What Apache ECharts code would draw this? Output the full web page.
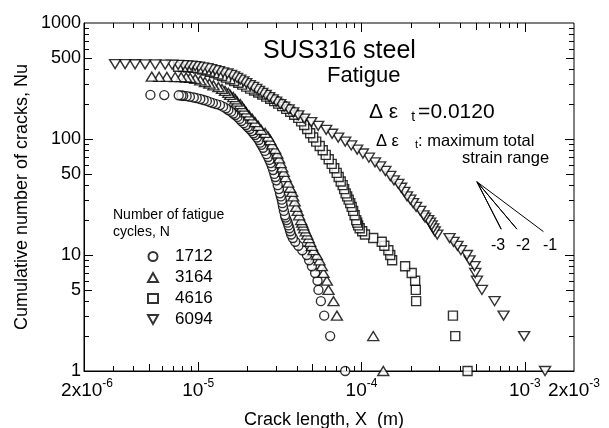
<!DOCTYPE html>
<html>
<head>
<meta charset="utf-8">
<script src="https://cdn.jsdelivr.net/npm/echarts@6/dist/echarts.min.js"></script>
<style>
html, body { margin: 0; padding: 0; background: #fff; }
#chart { width: 609px; height: 428px; }
</style>
</head>
<body>
<div id="chart"></div>
<script>
var cycles = ['1712', '3164', '4616', '6094'];

// [crack length X (m), cumulative number Nu]
var s1712 = [[5.1e-6,240],[6.2e-6,239],[7.6e-6,238],[7.9e-6,237],[8.1e-6,236],[8.5e-6,234],[8.9e-6,231],[9.4e-6,228],[9.8e-6,225],[1.03e-5,221],[1.08e-5,217],[1.13e-5,213],[1.18e-5,208],[1.23e-5,204],[1.29e-5,200],[1.36e-5,196],[1.42e-5,190],[1.48e-5,184],[1.53e-5,178],[1.59e-5,172],[1.64e-5,166],[1.69e-5,161],[1.74e-5,155],[1.79e-5,149],[1.84e-5,143],[1.90e-5,137],[1.96e-5,132],[2.01e-5,127],[2.07e-5,122],[2.13e-5,117],[2.18e-5,112],[2.23e-5,108],[2.29e-5,103],[2.35e-5,98],[2.40e-5,93],[2.44e-5,89],[2.50e-5,84],[2.56e-5,79],[2.62e-5,74],[2.68e-5,70],[2.73e-5,66],[2.78e-5,62],[2.83e-5,58],[2.88e-5,54],[2.93e-5,50],[2.97e-5,47],[3.01e-5,44],[3.07e-5,40],[3.12e-5,37],[3.17e-5,34],[3.21e-5,32],[3.25e-5,30],[3.28e-5,28],[3.31e-5,26],[3.35e-5,24],[3.40e-5,22],[3.43e-5,21],[3.48e-5,20],[3.53e-5,19],[3.57e-5,18],[3.62e-5,17],[3.66e-5,16],[3.71e-5,15],[3.80e-5,14],[3.93e-5,13],[4.11e-5,12],[4.34e-5,11],[4.63e-5,10],[4.78e-5,9],[4.97e-5,8],[5.20e-5,7],[5.38e-5,6],[5.45e-5,5],[5.64e-5,4],[5.91e-5,3],[6.43e-5,2],[7.95e-5,1]];

var s3164 = [[5.20e-6,345],[5.77e-6,344],[6.43e-6,343],[7.23e-6,342],[7.87e-6,341],[8.44e-6,339],[8.93e-6,336],[9.59e-6,330],[1.03e-5,320],[1.10e-5,310],[1.17e-5,300],[1.24e-5,290],[1.33e-5,280],[1.40e-5,270],[1.46e-5,260],[1.53e-5,250],[1.57e-5,240],[1.64e-5,230],[1.69e-5,220],[1.73e-5,210],[1.81e-5,200],[1.86e-5,190],[1.91e-5,180],[1.97e-5,170],[2.05e-5,160],[2.14e-5,150],[2.23e-5,140],[2.33e-5,130],[2.43e-5,120],[2.57e-5,113],[2.68e-5,105],[2.76e-5,98],[2.84e-5,90],[2.96e-5,82],[3.05e-5,75],[3.13e-5,68],[3.20e-5,62],[3.27e-5,57],[3.34e-5,52],[3.43e-5,47],[3.56e-5,42],[3.66e-5,38],[3.76e-5,35],[3.82e-5,32],[3.90e-5,29],[3.98e-5,26],[4.07e-5,24],[4.15e-5,22],[4.27e-5,20],[4.33e-5,19],[4.40e-5,18],[4.46e-5,17],[4.55e-5,16],[4.65e-5,15],[4.75e-5,14],[4.85e-5,13],[4.97e-5,12],[5.08e-5,11],[5.33e-5,10],[5.53e-5,9],[5.72e-5,8],[5.85e-5,7],[6.14e-5,6],[6.28e-5,5],[6.74e-5,4],[7.07e-5,3],[1.18e-4,2],[1.36e-4,1]];

var s4616 = [[7.54e-6,420],[8.09e-6,418],[8.68e-6,415],[9.32e-6,410],[1.00e-5,404],[1.06e-5,397],[1.12e-5,389],[1.18e-5,380],[1.25e-5,370],[1.33e-5,360],[1.40e-5,349],[1.48e-5,338],[1.57e-5,327],[1.66e-5,316],[1.76e-5,305],[1.86e-5,294],[1.97e-5,283],[2.08e-5,272],[2.20e-5,262],[2.33e-5,252],[2.47e-5,242],[2.61e-5,232],[2.76e-5,222],[2.92e-5,212],[3.09e-5,202],[3.27e-5,192],[3.46e-5,182],[3.66e-5,172],[3.87e-5,162],[4.10e-5,152],[4.27e-5,142],[4.46e-5,132],[4.65e-5,122],[4.85e-5,112],[5.06e-5,103],[5.28e-5,95],[5.55e-5,87],[5.79e-5,80],[6.04e-5,73],[6.30e-5,67],[6.57e-5,61],[6.81e-5,56],[7.05e-5,51],[7.25e-5,47],[7.46e-5,43],[7.67e-5,40],[7.83e-5,37],[8.00e-5,34],[8.17e-5,32],[8.35e-5,30],[8.53e-5,28],[8.71e-5,26],[8.89e-5,24],[9.08e-5,22],[9.28e-5,20],[9.41e-5,19],[9.54e-5,18],[9.75e-5,17],[1.01e-4,16],[1.05e-4,15],[1.18e-4,14],[1.33e-4,13],[1.38e-4,12],[1.46e-4,11],[1.50e-4,10],[1.54e-4,9],[1.85e-4,8],[2.03e-4,7],[2.13e-4,6],[2.15e-4,5],[2.16e-4,4],[3.63e-4,3],[3.75e-4,2],[4.46e-4,1]];

var s6094 = [[3.10e-6,443],[3.57e-6,442],[4.11e-6,441],[4.73e-6,440],[5.46e-6,439],[6.28e-6,438],[6.93e-6,437],[7.54e-6,436],[8.09e-6,434],[8.56e-6,432],[9.06e-6,429],[9.59e-6,425],[1.01e-5,420],[1.07e-5,414],[1.14e-5,408],[1.20e-5,401],[1.27e-5,393],[1.34e-5,385],[1.42e-5,376],[1.51e-5,367],[1.59e-5,357],[1.66e-5,347],[1.73e-5,336],[1.81e-5,325],[1.89e-5,314],[1.97e-5,303],[2.07e-5,292],[2.17e-5,281],[2.27e-5,270],[2.36e-5,260],[2.47e-5,250],[2.59e-5,240],[2.72e-5,230],[2.86e-5,220],[3.00e-5,210],[3.18e-5,200],[3.36e-5,190],[3.58e-5,180],[3.82e-5,170],[4.10e-5,160],[4.46e-5,150],[4.92e-5,140],[5.43e-5,130],[6.08e-5,120],[6.61e-5,111],[7.20e-5,103],[7.95e-5,95],[8.65e-5,88],[9.41e-5,81],[1.02e-4,75],[1.11e-4,69],[1.21e-4,63],[1.30e-4,58],[1.40e-4,53],[1.50e-4,48],[1.58e-4,44],[1.68e-4,41],[1.75e-4,38],[1.83e-4,35],[1.90e-4,32],[1.99e-4,30],[2.07e-4,28],[2.16e-4,26],[2.29e-4,24],[2.40e-4,22],[2.45e-4,21],[2.56e-4,20],[2.63e-4,19],[2.69e-4,18],[2.75e-4,17],[2.81e-4,16],[2.91e-4,15],[3.46e-4,14],[3.66e-4,13],[3.87e-4,12],[4.06e-4,11],[4.42e-4,10],[4.59e-4,9],[4.92e-4,8],[4.97e-4,7],[5.09e-4,6],[5.46e-4,5],[6.53e-4,4],[7.41e-4,3],[9.90e-4,2],[1.33e-3,1]];

// slope guide lines -3, -2, -1 (apex, then end points)
var slopeApex = [5.09e-4, 42.8];
var slopeEnds = [[7.17e-4, 16.7], [8.95e-4, 16.7], [1.30e-3, 15.9]];
var slopeText = ['-3', '-2', '-1'];

var xMin = 2e-6, xMax = 2e-3, yMin = 1, yMax = 1000;
var xLabelVals = [2e-6, 1e-5, 1e-4, 1e-3, 2e-3];
var xLabelText = [['2x10', '-6'], ['10', '-5'], ['10', '-4'], ['10', '-3'], ['2x10', '-3']];
var xTickMajor = [1e-5, 1e-4, 1e-3];
var xTickFive = [5e-6, 5e-5, 5e-4];
var xTickMinor = [3e-6, 4e-6, 6e-6, 7e-6, 8e-6, 9e-6, 2e-5, 3e-5, 4e-5, 6e-5, 7e-5, 8e-5, 9e-5,
    2e-4, 3e-4, 4e-4, 6e-4, 7e-4, 8e-4, 9e-4];
var yLabelVals = [1, 5, 10, 50, 100, 500, 1000];
var yTickMajor = [10, 100];
var yTickFive = [5, 50, 500];
var yTickMinor = [2, 3, 4, 6, 7, 8, 9, 20, 30, 40, 60, 70, 80, 90, 200, 300, 400, 600, 700, 800, 900];

var FONT = "'Liberation Sans', Arial, sans-serif";
var chart = echarts.init(document.getElementById('chart'));

function logs(a) { return a.map(function (v) { return Math.log10(v); }); }

// label-only axes in log10 units, laid over the real log axes
var xLogs = logs(xLabelVals);
function xFormatter(v) {
    for (var i = 0; i < xLogs.length; i++) {
        if (Math.abs(xLogs[i] - v) < 1e-6) {
            var b = i === 0 ? 'bl' : 'b';
            return '{' + b + '|' + xLabelText[i][0] + '}{s|' + xLabelText[i][1] + '}';
        }
    }
    return '';
}

var lineBlack = { color: '#000', width: 1 };

var xAxes = [
    {
        type: 'log', logBase: 10, min: xMin, max: xMax, position: 'bottom',
        axisLine: { show: true, onZero: false, lineStyle: lineBlack },
        axisTick: { show: false }, axisLabel: { show: false }, splitLine: { show: false },
        name: 'Crack length, X  (m)', nameLocation: 'middle', nameGap: 40,
        nameTextStyle: { fontSize: 18, fontFamily: FONT, color: '#000', padding: [0, 10, 0, 0] }
    },
    {
        type: 'value', position: 'bottom', min: Math.log10(xMin), max: Math.log10(xMax),
        axisLine: { show: false, onZero: false }, axisTick: { show: false }, splitLine: { show: false },
        axisLabel: {
            show: true, customValues: xLogs, margin: 3, formatter: xFormatter,
            rich: {
                b: { fontSize: 19, fontFamily: FONT, color: '#000', padding: [7, 0, 0, 0] },
                bl: { fontSize: 19, fontFamily: FONT, color: '#000', padding: [7, 0, 0, 6] },
                s: { fontSize: 12, fontFamily: FONT, color: '#000', padding: [0, 0, 6, 0] }
            }
        }
    }
];

var yAxes = [
    {
        type: 'log', logBase: 10, min: yMin, max: yMax, position: 'left',
        axisLine: { show: true, onZero: false, lineStyle: lineBlack },
        axisTick: { show: false }, axisLabel: { show: false }, splitLine: { show: false },
        name: 'Cumulative number of cracks, Nu', nameLocation: 'middle', nameGap: 53,
        nameTextStyle: { fontSize: 18, fontFamily: FONT, color: '#000' }
    },
    {
        type: 'value', position: 'left', min: Math.log10(yMin), max: Math.log10(yMax),
        axisLine: { show: false, onZero: false }, axisTick: { show: false }, splitLine: { show: false },
        axisLabel: {
            show: true, customValues: logs(yLabelVals), margin: 3,
            fontSize: 18, fontFamily: FONT, color: '#000',
            formatter: function (v) { return String(Math.round(Math.pow(10, v))); }
        }
    }
];

// inward ticks on all four sides, placed through the log axes
function tickSeries(vals, len, dim) {
    return {
        type: 'custom', xAxisIndex: 0, yAxisIndex: 0, silent: true, clip: false, z: 4,
        data: vals.map(function (v) { return dim === 'x' ? [v, yMin] : [xMin, v]; }),
        renderItem: function (params, api) {
            var st = { stroke: '#000', lineWidth: 1 };
            if (dim === 'x') {
                var v = api.value(0);
                var b = api.coord([v, yMin]), t = api.coord([v, yMax]);
                var x = Math.round(b[0]) + 0.5;
                return { type: 'group', children: [
                    { type: 'line', shape: { x1: x, y1: b[1], x2: x, y2: b[1] - len }, style: st },
                    { type: 'line', shape: { x1: x, y1: t[1], x2: x, y2: t[1] + len }, style: st }
                ] };
            }
            var w = api.value(1);
            var l = api.coord([xMin, w]), r = api.coord([xMax, w]);
            var y = Math.round(l[1]) + 0.5;
            return { type: 'group', children: [
                { type: 'line', shape: { x1: l[0], y1: y, x2: l[0] + len, y2: y }, style: st },
                { type: 'line', shape: { x1: r[0], y1: y, x2: r[0] - len, y2: y }, style: st }
            ] };
        }
    };
}

var symbols = ['circle', 'triangle', 'rect', 'path://M0,0L10,0L5,9Z'];
var sizes = [9, [11, 9], 9, [11, 9]];
var sets = [s1712, s3164, s4616, s6094];

var series = sets.map(function (d, i) {
    return {
        name: cycles[i], type: 'scatter', xAxisIndex: 0, yAxisIndex: 0,
        symbol: symbols[i], symbolSize: sizes[i], clip: false, silent: true,
        itemStyle: { color: '#fff', borderColor: '#000', borderWidth: 1.4 },
        data: d.slice().reverse()
    };
});

series[0].markLine = {
    silent: true, symbol: 'none', label: { show: false },
    lineStyle: { color: '#000', width: 1, type: [6, 4] },
    data: [{ xAxis: 2e-5 }]
};

var slopeData = [];
slopeEnds.forEach(function (p) { slopeData.push(slopeApex, p); });
series.push({
    name: 'slope', type: 'line', xAxisIndex: 0, yAxisIndex: 0, symbol: 'none', silent: true,
    lineStyle: { color: '#000', width: 1 }, data: slopeData, z: 1
});

series.push(tickSeries(xTickMajor, 9, 'x'));
series.push(tickSeries(xTickFive, 7, 'x'));
series.push(tickSeries(xTickMinor, 5, 'x'));
series.push(tickSeries(yTickMajor, 9, 'y'));
series.push(tickSeries(yTickFive, 8, 'y'));
series.push(tickSeries(yTickMinor, 5, 'y'));

function txt(x, y, text, size, rich) {
    var st = { text: text, fontSize: size, fontFamily: FONT, fill: '#000', verticalAlign: 'middle' };
    if (rich) st.rich = rich;
    return { type: 'text', x: x, y: y, style: st, silent: true };
}

var option = {
    animation: false,
    backgroundColor: '#fff',
    grid: {
        left: 84, right: 35, top: 23, bottom: 57, containLabel: false, outerBoundsMode: 'none',
        show: true, borderColor: '#000', borderWidth: 1, backgroundColor: 'transparent'
    },
    xAxis: xAxes,
    yAxis: yAxes,
    legend: {
        data: cycles, orient: 'vertical', left: 142, top: 243,
        itemWidth: 10, itemHeight: 9, itemGap: 4, selectedMode: false,
        textStyle: { fontSize: 17, fontFamily: FONT, color: '#000', lineHeight: 17, padding: [0, 0, 0, 12] }
    },
    series: series,
    graphic: [
        txt(263, 51, 'SUS316 steel', 25),
        txt(327, 76, 'Fatigue', 22),
        txt(369, 112, '{g|Δ ε}{s|t}{n|=0.0120}', 21, {
            g: { fontSize: 21, fontFamily: FONT, padding: [0, 13, 0, 0] },
            s: { fontSize: 14, fontFamily: FONT, padding: [11, 3, 0, 0] },
            n: { fontSize: 21, fontFamily: FONT }
        }),
        txt(376, 141, '{g|Δ ε}{s|t}{n|: maximum total}', 16.5, {
            g: { fontSize: 16.5, fontFamily: FONT, padding: [0, 16, 0, 0] },
            s: { fontSize: 11, fontFamily: FONT, padding: [8, 0, 0, 0] },
            n: { fontSize: 16.5, fontFamily: FONT }
        }),
        txt(462, 158, 'strain range', 16.5),
        txt(491, 246, slopeText[0], 16),
        txt(516, 246, slopeText[1], 16),
        txt(543, 246, slopeText[2], 16),
        txt(113, 215, 'Number of fatigue', 14),
        txt(113, 232, 'cycles, N', 14)
    ]
};
chart.setOption(option);
</script>
</body>
</html>
